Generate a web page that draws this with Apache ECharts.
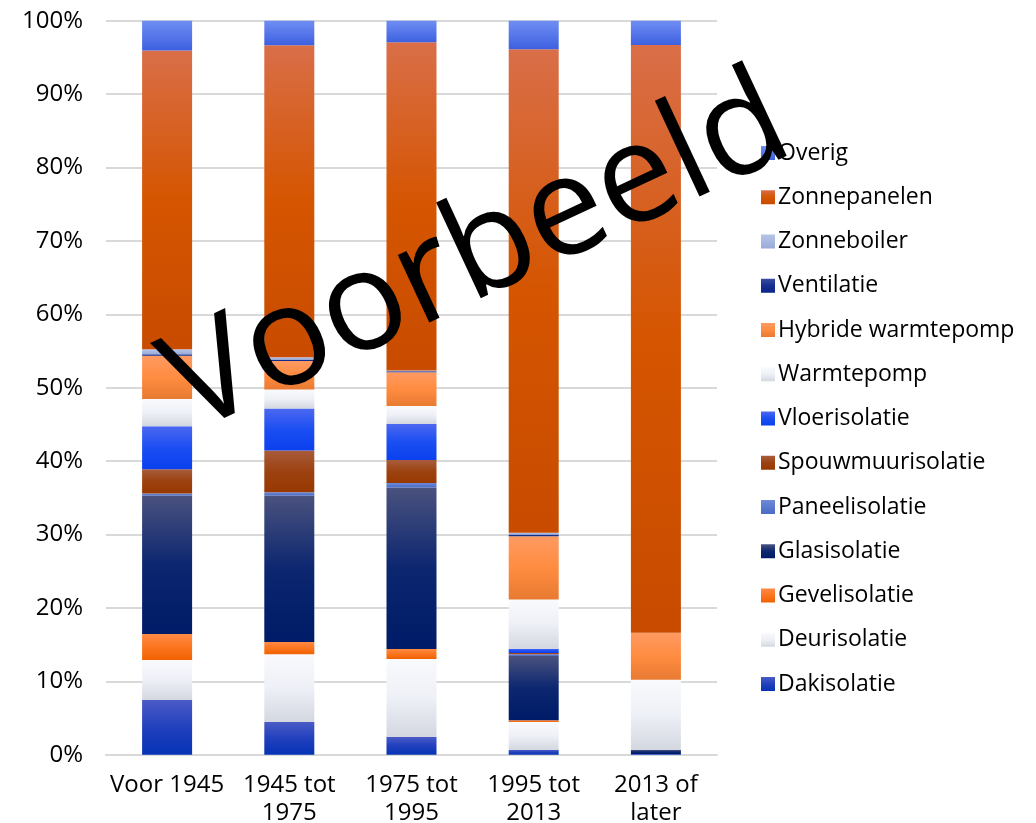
<!DOCTYPE html>
<html>
<head>
<meta charset="utf-8">
<script src="https://cdn.jsdelivr.net/npm/echarts@6/dist/echarts.min.js"></script>
<style>
  html, body { margin: 0; padding: 0; background: #ffffff; overflow: hidden; }
  #chart { width: 1036px; height: 823px; }
</style>
</head>
<body>
<div id="chart"></div>
<script>
// Bouwperiodes (x-as)
const categories = ['Voor 1945', '1945 tot\n1975', '1975 tot\n1995', '1995 tot\n2013', '2013 of\nlater'];

// Aandeel per maatregel (%), per bouwperiode
const dakisolatie       = [7.45, 4.45, 2.4, 0.65, 0.1];
const deurisolatie      = [5.45, 9.25, 10.65, 3.8, 0];
const gevelisolatie     = [3.55, 1.65, 1.35, 0.25, 0];
const glasisolatie      = [18.85, 19.95, 22.0, 8.75, 0.55];
const paneelisolatie    = [0.3, 0.45, 0.6, 0.25, 0];
const spouwmuurisolatie = [3.3, 5.7, 3.15, 0.15, 0];
const vloerisolatie     = [5.85, 5.7, 4.9, 0.6, 0];
const warmtepomp        = [3.7, 2.6, 2.45, 6.7, 9.55];
const hybrideWarmtepomp = [5.9, 3.9, 4.6, 8.6, 6.4];
const ventilatie        = [0.2, 0.2, 0.15, 0.25, 0];
const zonneboiler       = [0.7, 0.3, 0.1, 0.25, 0];
const zonnepanelen      = [40.7, 42.5, 44.7, 65.85, 80.1];
const overig            = [4.05, 3.35, 2.95, 3.9, 3.3];

// Y-as
const yMin = 0, yMax = 100, yStep = 10;

// Reeksen van onder naar boven, met verloopkleuren (boven, midden, onder)
const seriesDefs = [
  { name: 'Dakisolatie',        data: dakisolatie,       c: ['#4b5bc6', '#2140bd', '#0533b5'] },
  { name: 'Deurisolatie',       data: deurisolatie,      c: ['#f9fafd', '#eef0f7', '#d3d7df'] },
  { name: 'Gevelisolatie',      data: gevelisolatie,     c: ['#ff8a45', '#fb7520', '#f06200'] },
  { name: 'Glasisolatie',       data: glasisolatie,      c: ['#4a527e', '#0c2670', '#001b67'] },
  { name: 'Paneelisolatie',     data: paneelisolatie,    c: ['#6f8ad8', '#5a7acf', '#4a6ac6'] },
  { name: 'Spouwmuurisolatie',  data: spouwmuurisolatie, c: ['#a85c3c', '#9c4210', '#983800'] },
  { name: 'Vloerisolatie',      data: vloerisolatie,     c: ['#4c68f0', '#1b4ef2', '#0a40ee'] },
  { name: 'Warmtepomp',         data: warmtepomp,        c: ['#f9fafd', '#eef0f7', '#d3d7df'] },
  { name: 'Hybride warmtepomp', data: hybrideWarmtepomp, c: ['#ff9a62', '#ff8c40', '#e87a32'] },
  { name: 'Ventilatie',         data: ventilatie,        c: ['#3a4ca2', '#14308f', '#0a2488'] },
  { name: 'Zonneboiler',        data: zonneboiler,       c: ['#b6c3e6', '#a8b8e0', '#98aad8'] },
  { name: 'Zonnepanelen',       data: zonnepanelen,      c: ['#d96e48', '#d55500', '#c84b00'] },
  { name: 'Overig',             data: overig,            c: ['#6f8ef2', '#5777ea', '#3c60e0'] }
];

const grad = (c) => new echarts.graphic.LinearGradient(0, 0, 0, 1, [
  { offset: 0, color: c[0] },
  { offset: 0.5, color: c[1] },
  { offset: 1, color: c[2] }
]);

const FONT = '"Open Sans", "Noto Sans", sans-serif';

const chart = echarts.init(document.getElementById('chart'), null, { renderer: 'canvas' });

chart.setOption({
  backgroundColor: '#ffffff',
  animation: false,
  grid: {
    left: 106, right: 319, top: 20.7, bottom: 68.3,
    containLabel: false,
    outerBoundsMode: 'none'
  },
  legend: {
    orient: 'vertical',
    left: 756,
    top: 136,
    itemWidth: 14,
    itemHeight: 14,
    itemGap: 20.25,
    icon: 'rect',
    data: seriesDefs.map(s => s.name).reverse(),
    textStyle: { fontFamily: FONT, fontSize: 23, color: '#000000', lineHeight: 24, padding: [0, 0, 0, -2] }
  },
  xAxis: {
    type: 'category',
    data: categories,
    axisLine: { show: true, lineStyle: { color: '#d9d9d9', width: 2 } },
    axisTick: { show: false },
    axisLabel: { fontFamily: FONT, fontSize: 24, color: '#000000', lineHeight: 28, margin: 16, interval: 0 }
  },
  yAxis: {
    type: 'value',
    min: yMin,
    max: yMax,
    interval: yStep,
    axisLine: { show: false },
    axisTick: { show: false },
    splitLine: { lineStyle: { color: '#d9d9d9', width: 2 } },
    axisLabel: { fontFamily: FONT, fontSize: 24, color: '#000000', margin: 23, formatter: '{value}%' }
  },
  series: seriesDefs.map(s => ({
    name: s.name,
    type: 'bar',
    stack: 'totaal',
    barWidth: 50,
    data: s.data,
    itemStyle: { color: grad(s.c) },
    emphasis: { disabled: true }
  })),
  graphic: [{
    type: 'text',
    x: 478,
    y: 256,
    rotation: 25 * Math.PI / 180,
    z: 100,
    style: {
      text: 'Voorbeeld',
      fontFamily: FONT,
      fontSize: 139,
      fill: '#000000',
      align: 'center',
      verticalAlign: 'middle'
    }
  }]
});
</script>
</body>
</html>
